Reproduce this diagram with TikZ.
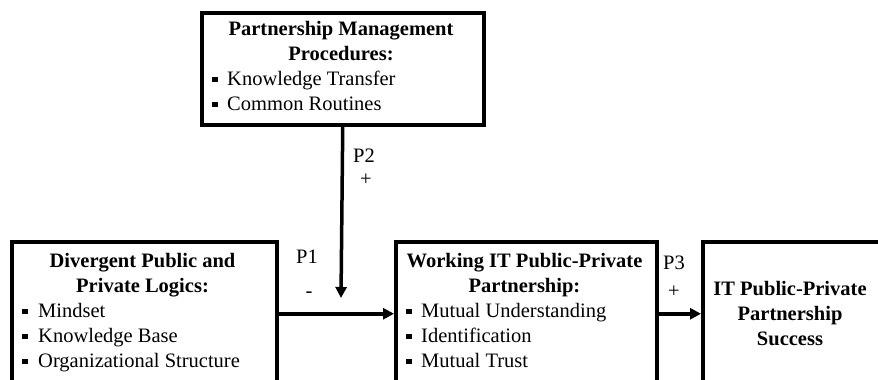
\documentclass[tikz,border=0pt]{standalone}
\usepackage{fontspec}
\setmainfont{Liberation Serif}
\usetikzlibrary{arrows.meta}
\begin{document}
\begin{tikzpicture}[x=1pt,y=-1pt,
  box/.style={draw, line width=3.5pt, anchor=north west, inner sep=0pt, minimum height=144pt},
  txt/.style={inner sep=0pt, anchor=base, font=\fontsize{20.5pt}{25pt}\selectfont},
  head/.style={txt, font=\fontsize{20.5pt}{25pt}\selectfont\bfseries},
  item/.style={txt, anchor=base west},
  arr/.style={line width=3.5pt, -{Triangle[length=11pt,width=11pt]}},
  bul/.style={fill=black}
]
\useasboundingbox (0,0) rectangle (878,380);
\clip (0,0) rectangle (878,380);

% boxes
\node[box, minimum width=282pt, minimum height=112pt] (T) at (200,11) {};
\node[box, minimum width=265pt] (L) at (10,240) {};
\node[box, minimum width=261pt] (M) at (394,240) {};
\node[box, minimum width=180pt] (R) at (701,240) {};

% top box text
\node[head] (t1) at (341,35) {Partnership Management};
\node[head] (t2) at (341,60) {Procedures:};
\fill[bul] (212,76.5) rectangle ++(5.5,5.5);
\node[item] (t3) at (227,85) {Knowledge Transfer};
\fill[bul] (212,101.5) rectangle ++(5.5,5.5);
\node[item] (t4) at (227,110) {Common Routines};

% left box text
\node[head] (l1) at (142.5,267) {Divergent Public and};
\node[head] (l2) at (142.5,292) {Private Logics:};
\fill[bul] (22,308.5) rectangle ++(5.5,5.5);
\node[item] (l3) at (38,317) {Mindset};
\fill[bul] (22,333.5) rectangle ++(5.5,5.5);
\node[item] (l4) at (38,342) {Knowledge Base};
\fill[bul] (22,358.5) rectangle ++(5.5,5.5);
\node[item] (l5) at (38,367) {Organizational Structure};

% middle box text
\node[head] (m1) at (524.5,267) {Working IT Public-Private};
\node[head] (m2) at (524.5,292) {Partnership:};
\fill[bul] (406,308.5) rectangle ++(5.5,5.5);
\node[item] (m3) at (421,317) {Mutual Understanding};
\fill[bul] (406,333.5) rectangle ++(5.5,5.5);
\node[item] (m4) at (421,342) {Identification};
\fill[bul] (406,358.5) rectangle ++(5.5,5.5);
\node[item] (m5) at (421,367) {Mutual Trust};

% right box text
\node[head] (r1) at (790,295) {IT Public-Private};
\node[head] (r2) at (790,320) {Partnership};
\node[head] (r3) at (790,345) {Success};

% connectors
\coordinate (p2end) at (341,298);
\draw[arr] (L.east) -- (M.west);
\draw[arr] (M.east) -- (R.west);
\draw[arr] (T.south) -- (p2end);

% labels
\node[txt] (p1) at (307,263) {P1};
\node[txt] (p1s) at (309,297) {-};
\node[txt] (p2) at (364,162) {P2};
\node[txt] (p2s) at (366,185) {+};
\node[txt] (p3) at (674,269) {P3};
\node[txt] (p3s) at (674,297) {+};
\end{tikzpicture}
\end{document}
